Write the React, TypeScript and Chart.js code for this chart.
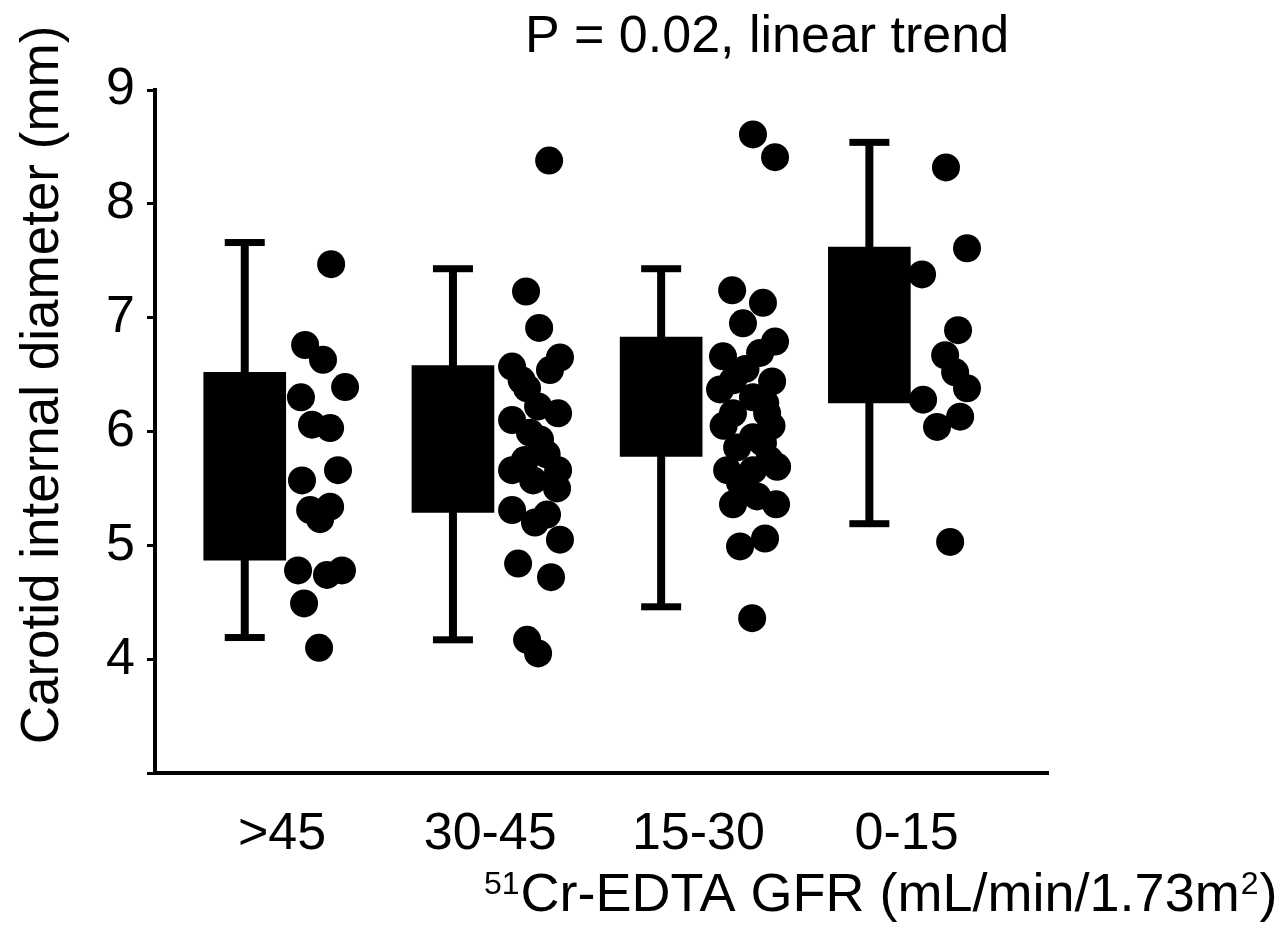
import { useEffect, useRef } from "react";
import { Chart, registerables } from "chart.js";

Chart.register(...registerables);

// ---------- data ----------
const CATEGORIES = [">45", "30-45", "15-30", "0-15"];
const WHISKER_LOW = [4.19, 4.17, 4.46, 5.19];
const BOX_Q1 = [4.87, 5.29, 5.78, 6.25];
const BOX_Q3 = [6.52, 6.58, 6.83, 7.62];
const WHISKER_HIGH = [7.66, 7.43, 7.43, 8.54];

const G1_VALUES = [7.47, 6.76, 6.63, 6.39, 6.3, 6.06, 6.03, 5.66, 5.57, 5.31, 5.34, 5.23, 4.78, 4.74, 4.78, 4.49, 4.1];
const G1_JITTER = [0.415, 0.29, 0.376, 0.482, 0.27, 0.323, 0.41, 0.448, 0.275, 0.314, 0.41, 0.362, 0.256, 0.395, 0.467, 0.285, 0.357];

const G2_VALUES = [8.38, 7.23, 6.91, 6.65, 6.54, 6.57, 6.38, 6.22, 6.16, 6.1, 5.99, 5.93, 5.75, 5.66, 5.57, 5.66, 5.5, 5.31, 5.2, 5.27, 5.05, 4.84, 4.72, 4.17, 4.05, 5.8, 6.45];
const G2_JITTER = [0.462, 0.351, 0.414, 0.514, 0.466, 0.284, 0.356, 0.409, 0.505, 0.284, 0.37, 0.418, 0.346, 0.284, 0.385, 0.505, 0.5, 0.284, 0.394, 0.452, 0.514, 0.313, 0.471, 0.356, 0.409, 0.45, 0.33];

const G3_VALUES = [8.61, 8.41, 7.24, 7.13, 6.95, 6.79, 6.66, 6.69, 6.45, 6.44, 6.37, 6.3, 6.16, 6.16, 5.86, 5.9, 5.95, 5.66, 5.66, 5.69, 5.55, 5.36, 5.43, 5.36, 4.99, 5.06, 4.36, 6.55, 6.05, 6.05, 6.25, 5.75];
const G3_JITTER = [0.441, 0.547, 0.341, 0.489, 0.393, 0.547, 0.297, 0.475, 0.345, 0.533, 0.283, 0.441, 0.345, 0.509, 0.365, 0.489, 0.441, 0.317, 0.441, 0.557, 0.379, 0.345, 0.461, 0.552, 0.379, 0.499, 0.437, 0.405, 0.3, 0.53, 0.5, 0.52];

const G4_VALUES = [8.32, 7.61, 7.38, 6.89, 6.67, 6.52, 6.38, 6.28, 6.13, 6.04, 5.03];
const G4_JITTER = [0.368, 0.469, 0.253, 0.426, 0.364, 0.412, 0.469, 0.258, 0.436, 0.325, 0.388];

const Y_MIN = 3;
const Y_MAX = 9;
const X_MIN = -0.431;
const X_MAX = 3.858;
const LABEL_SHIFT = 0.179;

const TITLE = "P = 0.02, linear trend";
const Y_TITLE = "Carotid internal diameter (mm)";
const X_TITLE_SUP = "51";
const X_TITLE_MAIN = "Cr-EDTA GFR (mL/min/1.73m";
const X_TITLE_SUP2 = "2";
const X_TITLE_END = ")";

// ---------- styles ----------
const FONT = "'Liberation Sans', Arial, Helvetica, sans-serif";
const FONT_SIZE = 52;
const XT_SIZE = 54;
const SUP_SIZE = 32;
const BLACK = "#000000";

const GROUP_VALUES = [G1_VALUES, G2_VALUES, G3_VALUES, G4_VALUES];
const GROUP_JITTER = [G1_JITTER, G2_JITTER, G3_JITTER, G4_JITTER];

const whiskerPlugin = {
  id: "whiskers",
  beforeDatasetsDraw(chart: any) {
    const { ctx, scales } = chart;
    const x = scales.x;
    const y = scales.y;
    ctx.save();
    ctx.fillStyle = BLACK;
    CATEGORIES.forEach((_, g) => {
      const px = x.getPixelForValue(g);
      const yl = y.getPixelForValue(WHISKER_LOW[g]);
      const yh = y.getPixelForValue(WHISKER_HIGH[g]);
      ctx.fillRect(px - 4, yh, 8, yl - yh);
      ctx.fillRect(px - 20, yh - 3.5, 40, 7);
      ctx.fillRect(px - 20, yl - 3.5, 40, 7);
    });
    ctx.restore();
  },
};

const textPlugin = {
  id: "texts",
  afterDraw(chart: any) {
    const { ctx, chartArea } = chart;
    ctx.save();
    ctx.fillStyle = BLACK;
    ctx.textBaseline = "alphabetic";
    ctx.font = `${FONT_SIZE}px ${FONT}`;
    // title
    ctx.textAlign = "center";
    ctx.fillText(TITLE, chartArea.left + 612, 44);
    // y title
    ctx.save();
    ctx.translate(50, 377);
    ctx.rotate(-Math.PI / 2);
    ctx.font = `${FONT_SIZE + 1}px ${FONT}`;
    ctx.fillText(Y_TITLE, 0, 0);
    ctx.restore();
    // x title
    ctx.textAlign = "left";
    let tx = 476;
    const base = 903;
    ctx.font = `${SUP_SIZE}px ${FONT}`;
    ctx.fillText(X_TITLE_SUP, tx, base - 17);
    tx += ctx.measureText(X_TITLE_SUP).width + 1;
    ctx.font = `${XT_SIZE}px ${FONT}`;
    ctx.fillText(X_TITLE_MAIN, tx, base);
    tx += ctx.measureText(X_TITLE_MAIN).width + 1;
    ctx.font = `${SUP_SIZE}px ${FONT}`;
    ctx.fillText(X_TITLE_SUP2, tx, base - 17);
    tx += ctx.measureText(X_TITLE_SUP2).width + 1;
    ctx.font = `${XT_SIZE}px ${FONT}`;
    ctx.fillText(X_TITLE_END, tx, base);
    ctx.restore();
  },
};

export default function App() {
  const ref = useRef<HTMLCanvasElement | null>(null);

  useEffect(() => {
    if (!ref.current) return;
    const boxData = CATEGORIES.map((_, g) => ({ x: g, y: [BOX_Q1[g], BOX_Q3[g]] }));
    const scatterSets = GROUP_VALUES.map((vals, g) => ({
      type: "scatter" as const,
      label: CATEGORIES[g],
      data: vals.map((v, i) => ({ x: g + GROUP_JITTER[g][i], y: v })),
      pointRadius: 14,
      pointHoverRadius: 14,
      pointBackgroundColor: BLACK,
      pointBorderWidth: 0,
      pointBorderColor: BLACK,
      showLine: false,
    }));

    const chart = new Chart(ref.current, {
      type: "bar",
      data: {
        datasets: [
          {
            type: "bar",
            label: "box",
            data: boxData as any,
            backgroundColor: BLACK,
            borderWidth: 0,
            barThickness: 82,
          } as any,
          ...scatterSets,
        ],
      },
      options: {
        animation: false,
        responsive: false,
        devicePixelRatio: 1,
        layout: { padding: { top: 82, right: 227, left: 0, bottom: 0 } },
        plugins: {
          legend: { display: false },
          tooltip: { enabled: false },
          title: { display: false },
        },
        scales: {
          x: {
            type: "linear",
            min: X_MIN,
            max: X_MAX,
            offset: false,
            grid: { display: false, drawTicks: false },
            border: { display: true, color: BLACK, width: 4 },
            afterBuildTicks: (scale: any) => {
              scale.ticks = CATEGORIES.map((_, i) => ({ value: i + LABEL_SHIFT }));
            },
            afterFit: (scale: any) => {
              scale.height = 149;
            },
            ticks: {
              autoSkip: false,
              maxRotation: 0,
              padding: 30,
              color: BLACK,
              font: { family: FONT, size: FONT_SIZE },
              callback: (_v: any, i: number) => CATEGORIES[i],
            },
          },
          y: {
            type: "linear",
            min: Y_MIN,
            max: Y_MAX,
            grid: {
              drawOnChartArea: false,
              drawTicks: true,
              tickLength: 8,
              tickWidth: 3,
              tickColor: BLACK,
            },
            border: { display: true, color: BLACK, width: 4 },
            afterFit: (scale: any) => {
              scale.width = 147;
            },
            ticks: {
              stepSize: 1,
              padding: 12,
              color: BLACK,
              font: { family: FONT, size: FONT_SIZE },
              callback: (v: any) => (v === Y_MIN ? "" : String(v)),
            },
          },
        },
      },
      plugins: [whiskerPlugin, textPlugin],
    });
    return () => chart.destroy();
  }, []);

  return (
    <div>
      <canvas ref={ref} width={1267} height={914} style={{ display: "block" }} />
    </div>
  );
}
